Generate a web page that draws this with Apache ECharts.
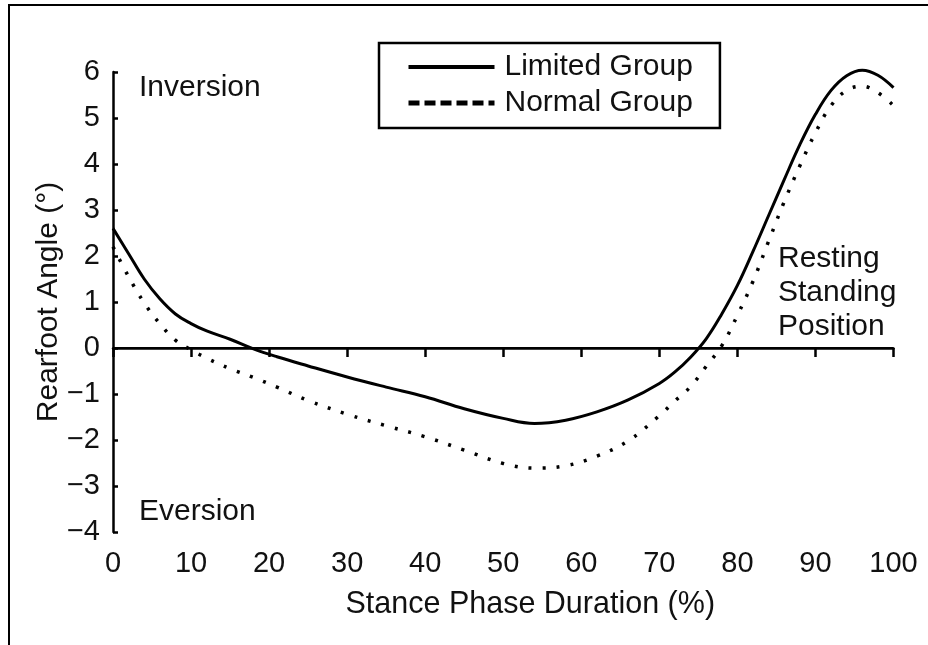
<!DOCTYPE html>
<html>
<head>
<meta charset="utf-8">
<script src="https://cdn.jsdelivr.net/npm/echarts@6/dist/echarts.min.js"></script>
<style>
  html, body { margin: 0; padding: 0; background: #fff; }
  #chart { width: 928px; height: 645px; }
</style>
</head>
<body>
<div id="chart"></div>
<script>
const stancePct = [0, 2, 4, 6, 8, 10, 12, 15, 18, 21, 25, 30, 35, 40, 45, 50, 54, 58, 62, 66,
  70, 72, 74, 76, 78, 80, 82, 84, 86, 88, 90, 92, 94, 96, 98, 100];

const limitedGroup = [2.6, 2.05, 1.5, 1.07, 0.74, 0.53, 0.37, 0.19, -0.02, -0.19, -0.39, -0.63,
  -0.85, -1.06, -1.32, -1.53, -1.64, -1.57, -1.39, -1.13, -0.77, -0.52, -0.2, 0.2, 0.74, 1.36,
  2.1, 2.88, 3.66, 4.42, 5.08, 5.6, 5.92, 6.04, 5.93, 5.66];

const normalGroup = [2.2, 1.55, 0.98, 0.53, 0.17, -0.04, -0.22, -0.45, -0.64, -0.85, -1.14, -1.44,
  -1.69, -1.93, -2.22, -2.51, -2.61, -2.56, -2.35, -2.02, -1.47, -1.15, -0.84, -0.4, 0.05, 0.71,
  1.45, 2.32, 3.18, 3.96, 4.68, 5.27, 5.6, 5.69, 5.55, 5.27];

const seriesNames = ["Limited Group", "Normal Group"];

const FONT = '"Liberation Sans", Arial, Helvetica, sans-serif';
const INK = "#111";

const chart = echarts.init(document.getElementById("chart"));

const pairs = (ys) => stancePct.map((x, i) => [x, ys[i]]);

// legend shows the line only, no symbol
const noSymbol = { color: "rgba(0,0,0,0)", borderWidth: 0, opacity: 0 };

const option = {
  backgroundColor: "#fff",
  animation: false,
  grid: {
    left: 113,
    right: 34.5,
    top: 72,
    bottom: 113,
    containLabel: false,
    outerBoundsMode: "none",
  },
  legend: {
    orient: "vertical",
    left: 379,
    top: 43,
    data: [
      { name: seriesNames[0], itemStyle: noSymbol, lineStyle: { width: 4, type: "solid", color: "#000" } },
      { name: seriesNames[1], itemStyle: noSymbol, lineStyle: { width: 5, type: [11, 5], color: "#000" } },
    ],
    itemWidth: 86,
    itemHeight: 30,
    itemGap: 6,
    padding: [9, 27, 10, 27],
    borderColor: "#000",
    borderWidth: 2.5,
    textStyle: {
      fontFamily: FONT,
      fontSize: 30,
      color: INK,
      padding: [0, 0, 0, 5],
    },
  },
  xAxis: {
    type: "value",
    min: 0,
    max: 100,
    interval: 10,
    name: "Stance Phase Duration (%)",
    nameLocation: "middle",
    nameGap: 57,
    nameMoveOverlap: false,
    nameTextStyle: {
      fontFamily: FONT,
      fontSize: 30.5,
      color: INK,
      padding: [0, 0, 0, 54],
    },
    axisLine: { show: true, lineStyle: { color: "#000", width: 2.5 } },
    axisTick: { show: true, inside: false, length: 9, lineStyle: { color: "#000", width: 2.5 } },
    axisLabel: { fontFamily: FONT, fontSize: 29, color: INK, margin: 17 },
    splitLine: { show: false },
  },
  yAxis: {
    type: "value",
    min: -4,
    max: 6,
    interval: 1,
    name: "Rearfoot Angle (°)",
    nameLocation: "middle",
    nameGap: 49,
    nameMoveOverlap: false,
    nameTextStyle: { fontFamily: FONT, fontSize: 30, color: INK },
    axisLine: { show: true, lineStyle: { color: "#000", width: 2.5 } },
    axisTick: { show: true, inside: true, length: 5, lineStyle: { color: "#000", width: 2.5 } },
    axisLabel: {
      fontFamily: FONT,
      fontSize: 29,
      color: INK,
      margin: 13,
      formatter: (v) => (v < 0 ? "\u2212" + Math.abs(v) : String(v)),
    },
    splitLine: { show: false },
  },
  graphic: [
    {
      // outer frame of the figure
      type: "rect",
      shape: { x: 9, y: 5, width: 1000, height: 1000 },
      style: { fill: "none", stroke: "#000", lineWidth: 2 },
      silent: true,
    },
    {
      type: "text",
      x: 139,
      y: 88,
      style: { text: "Inversion", font: "30px " + FONT, fill: INK, verticalAlign: "middle" },
    },
    {
      type: "text",
      x: 139,
      y: 512,
      style: { text: "Eversion", font: "30px " + FONT, fill: INK, verticalAlign: "middle" },
    },
    {
      type: "text",
      x: 778,
      y: 293,
      style: {
        text: "Resting\nStanding\nPosition",
        font: "30px " + FONT,
        fill: INK,
        lineHeight: 34,
        verticalAlign: "middle",
      },
    },
  ],
  series: [
    {
      name: seriesNames[0],
      type: "line",
      data: pairs(limitedGroup),
      smooth: 0.4,
      symbol: "none",
      clip: false,
      lineStyle: { color: "#000", width: 3 },
      itemStyle: { color: "#000" },
      markLine: {
        silent: true,
        symbol: "none",
        label: { show: false },
        lineStyle: { color: "#000", width: 2, type: "solid" },
        data: [{ yAxis: 0 }],
      },
      z: 3,
    },
    {
      name: seriesNames[1],
      type: "line",
      data: pairs(normalGroup),
      smooth: 0.4,
      symbol: "none",
      clip: false,
      lineStyle: { color: "#000", width: 3.5, type: [3, 11] },
      itemStyle: { color: "#000" },
      z: 2,
    },
  ],
};

chart.setOption(option);
</script>
</body>
</html>
